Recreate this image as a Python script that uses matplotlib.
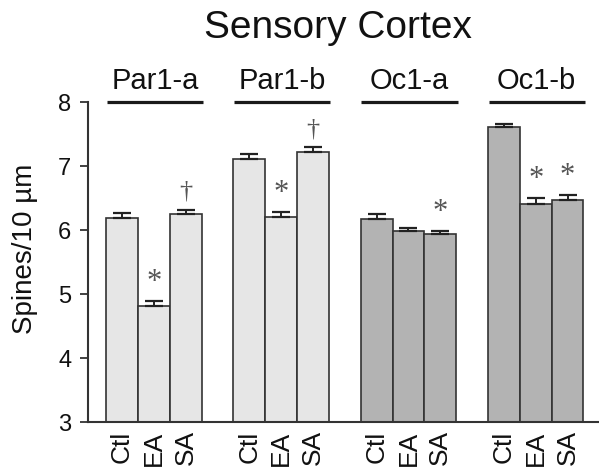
import matplotlib
matplotlib.use("Agg")
import matplotlib.pyplot as plt
import numpy as np

plt.rcParams['font.family'] = ['Liberation Sans', 'DejaVu Sans']

# ----- Data ----- #
regions = ["Par1-a", "Par1-b", "Oc1-a", "Oc1-b"]
conditions = ["Ctl", "EA", "SA"]
spines = [
    [6.19, 4.82, 6.25],   # Par1-a
    [7.11, 6.21, 7.22],   # Par1-b
    [6.17, 5.99, 5.93],   # Oc1-a
    [7.61, 6.41, 6.47],   # Oc1-b
]
sem = [
    [0.08, 0.07, 0.07],
    [0.07, 0.07, 0.07],
    [0.08, 0.04, 0.05],
    [0.05, 0.09, 0.07],
]
# significance markers ("*" vs Ctl, "†" vs EA)
marks = [
    ["", "*", "\u2020"],
    ["", "*", "\u2020"],
    ["", "", "*"],
    ["", "*", "*"],
]
region_colors = ["#e6e6e6", "#e6e6e6", "#b3b3b3", "#b3b3b3"]

# ----- Figure ----- #
fig = plt.figure(figsize=(5.99, 4.69), dpi=100)
ax = fig.add_axes([88/599, 47/469, 511/599, 320/469])

edge = "#333333"
xticks = []
xlabels = []
for g, region in enumerate(regions):
    x = g * 4 + np.arange(3)
    ax.bar(x, spines[g], width=1.0, bottom=0, color=region_colors[g],
           edgecolor=edge, linewidth=1.2, zorder=2)
    # upper error bars only
    ax.errorbar(x, spines[g], yerr=[np.zeros(3), sem[g]], fmt="none",
                ecolor="#222222", elinewidth=1.4, capsize=6.5, capthick=1.6, zorder=3)
    for i in range(3):
        m = marks[g][i]
        if m:
            ax.annotate(m, (x[i], spines[g][i] + sem[g][i]), xytext=(0, 3 if m == "*" else 5),
                        textcoords="offset points", ha="center", va="bottom",
                        fontsize=22 if m == "*" else 19, color="#555555",
                        family="Liberation Serif", annotation_clip=False)
    # group header line and label
    ax.plot([g * 4 - 0.48, g * 4 + 2.55], [8, 8], color="#1a1a1a", lw=2.3,
            clip_on=False, solid_capstyle="butt")
    ax.text(g * 4 + 1.03, 8.2, region, ha="center", va="baseline", fontsize=21,
            color="#111111")
    xticks.extend(x)
    xlabels.extend(conditions)

ax.set_ylim(3, 8)
ax.set_xlim(-1.07, 14.99)
ax.set_yticks([3, 4, 5, 6, 7, 8])
ax.set_xticks(xticks)
ax.set_xticklabels(xlabels, rotation=90, va="top", ha="center")

ax.spines[['top', 'right']].set_visible(False)
for s in ['left', 'bottom']:
    ax.spines[s].set_color(edge)
    ax.spines[s].set_linewidth(1.5)
ax.tick_params(axis='y', length=6, width=1.3, color=edge, pad=6, labelsize=17, labelcolor="#111111")
ax.tick_params(axis='x', length=0, pad=6, labelsize=19, labelcolor="#111111")

fig.text(0.042, 0.469, "Spines/10 \u00b5m", rotation=90, ha="center", va="center",
         fontsize=20, color="#111111")
fig.text(0.564, 0.919, "Sensory Cortex", ha="center", va="baseline", fontsize=28,
         color="#111111")

fig.savefig("out.png", dpi=100)
